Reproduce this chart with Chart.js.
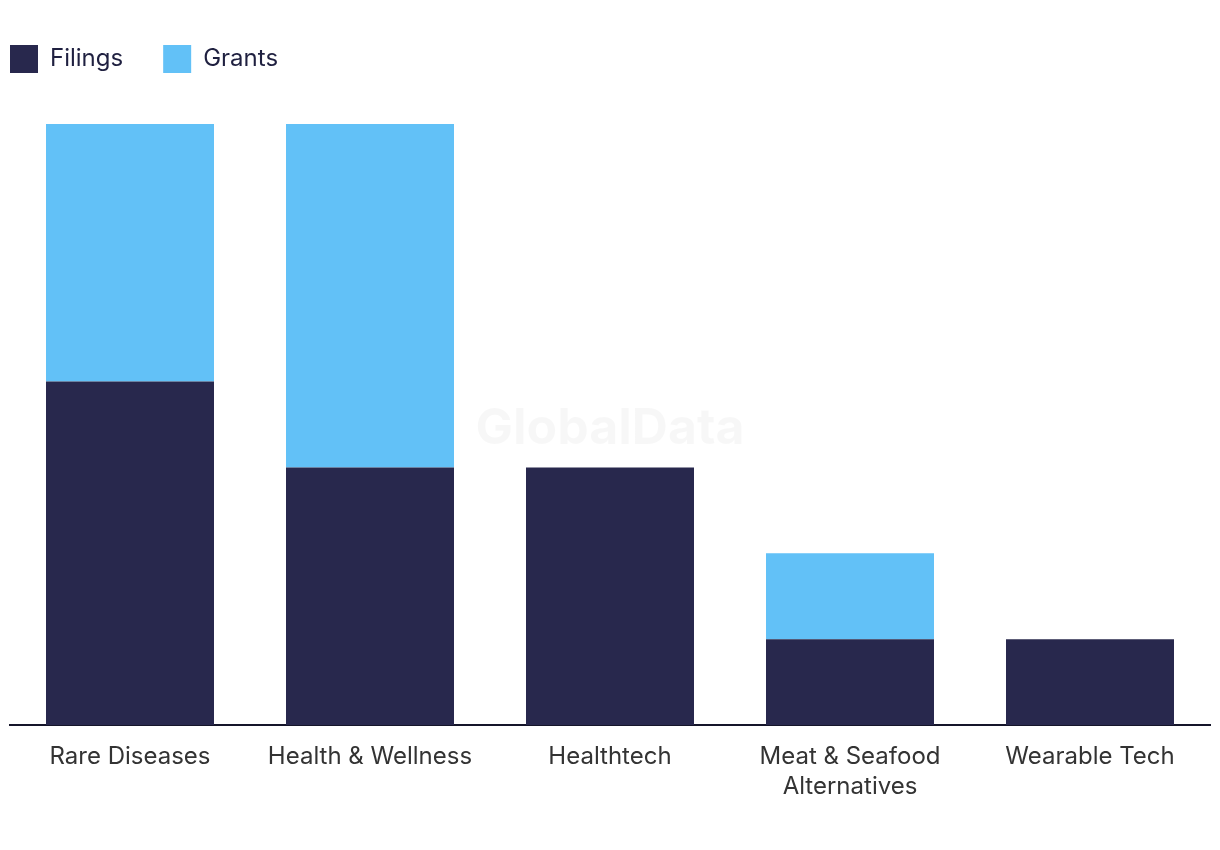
<!DOCTYPE html>
<html>
<head>
<meta charset="utf-8">
<script src="https://cdn.jsdelivr.net/npm/chart.js@4"></script>
<style>
html,body{margin:0;padding:0;background:#fff;}
#wrap{width:1220px;height:850px;position:relative;}
</style>
</head>
<body>
<div id="wrap"><canvas id="c" width="1220" height="850"></canvas></div>
<script>
const categories = ['Rare Diseases', 'Health & Wellness', 'Healthtech', ['Meat & Seafood', 'Alternatives'], 'Wearable Tech'];
const filings = [4, 3, 3, 1, 1];
const grants = [3, 4, 0, 1, 0];

const FONT = 'Inter, "Liberation Sans", sans-serif';

const watermark = {
  id: 'watermark',
  beforeDatasetsDraw(chart) {
    const a = chart.chartArea, ctx = chart.ctx;
    ctx.save();
    ctx.font = 'bold 50px ' + FONT;
    ctx.fillStyle = 'rgba(0,0,0,0.032)';
    ctx.textAlign = 'center';
    ctx.textBaseline = 'alphabetic';
    ctx.fillText('GlobalData', (a.left + a.right) / 2, (a.top + a.bottom) / 2 + 19);
    ctx.restore();
  }
};

const legendTweak = {
  id: 'legendTweak',
  afterInit(chart) {
    const lg = chart.legend;
    if (!lg) return;
    const origFit = lg.fit;
    lg.fit = function () {
      origFit.call(this);
      this.height = 119;
    };
  },
  beforeDraw(chart) {
    const lg = chart.legend;
    if (lg) lg.left = 10 - lg.options.labels.padding;
  }
};

new Chart(document.getElementById('c'), {
  type: 'bar',
  data: {
    labels: categories,
    datasets: [
      { label: 'Filings', data: filings, backgroundColor: '#28284d', categoryPercentage: 1, barPercentage: 0.7 },
      { label: 'Grants', data: grants, backgroundColor: '#62c1f7', categoryPercentage: 1, barPercentage: 0.7 }
    ]
  },
  options: {
    responsive: false,
    animation: false,
    layout: { padding: { top: 5, left: 10, right: 10, bottom: 31 } },
    plugins: {
      legend: {
        position: 'top',
        align: 'start',
        labels: {
          boxWidth: 28, boxHeight: 28, padding: 40,
          color: '#1f2040',
          font: { family: FONT, size: 24 }
        }
      },
      tooltip: { enabled: false }
    },
    scales: {
      x: {
        stacked: true,
        grid: { display: false, drawTicks: false },
        border: { display: true, color: '#15152a', width: 2 },
        ticks: {
          color: '#333333',
          padding: 17,
          font: { family: FONT, size: 24, lineHeight: 1.25 }
        }
      },
      y: {
        stacked: true,
        display: false,
        min: 0,
        max: 7
      }
    }
  },
  plugins: [watermark, legendTweak]
});
</script>
</body>
</html>
